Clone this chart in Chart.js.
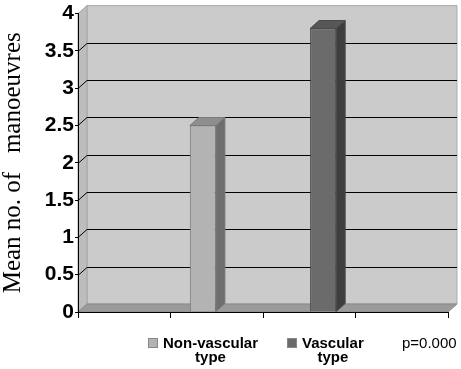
<!DOCTYPE html>
<html><head><meta charset="utf-8">
<script src="https://cdn.jsdelivr.net/npm/chart.js@4"></script>
<style>html,body{margin:0;padding:0;background:#fff;}</style>
</head><body>
<canvas id="c" width="461" height="369" style="display:block;width:461px;height:369px"></canvas>
<script>
// ---- data ----
const categories = ["", "", "", ""];
const nonVascular = [null, 2.5, null, null];
const vascular = [null, null, 3.8, null];
const seriesNames = ["Non-vascular type", "Vascular type"];
const yTicks = [0, 0.5, 1, 1.5, 2, 2.5, 3, 3.5, 4];
const yTickLabels = ["0", "0.5", "1", "1.5", "2", "2.5", "3", "3.5", "4"];
const yTitle = "Mean no. of   manoeuvres";
const note = "p=0.000";

// ---- styles ----
const DX = 9, DY = 8;
const faces = [
  {front:'#b3b3b3', side:'#6e6e6e', top:'#8e8e8e', edge:'#7a7a7a'},
  {front:'#6b6b6b', side:'#3e3e3e', top:'#575757', edge:'#4a4a4a'}
];

function poly(ctx, pts, fill, stroke) {
  ctx.beginPath();
  ctx.moveTo(pts[0][0], pts[0][1]);
  for (let i = 1; i < pts.length; i++) ctx.lineTo(pts[i][0], pts[i][1]);
  ctx.closePath();
  if (fill) { ctx.fillStyle = fill; ctx.fill(); }
  if (stroke) { ctx.strokeStyle = stroke; ctx.lineWidth = 1; ctx.stroke(); }
}

const threeD = {
  id: 'threeD',
  beforeDraw(chart) {
    const {ctx, chartArea: a, scales: {y}} = chart;
    ctx.save();
    ctx.fillStyle = '#fff';
    ctx.fillRect(0, 0, chart.width, chart.height);
    // back wall
    poly(ctx, [[a.left+DX, a.top-DY],[a.right+DX, a.top-DY],[a.right+DX, a.bottom-DY],[a.left+DX, a.bottom-DY]], '#cbcbcb', '#ababab');
    // side wall
    poly(ctx, [[a.left, a.bottom],[a.left, a.top],[a.left+DX, a.top-DY],[a.left+DX, a.bottom-DY]], '#bdbdbd', '#a5a5a5');
    // floor
    poly(ctx, [[a.left, a.bottom],[a.right, a.bottom],[a.right+DX, a.bottom-DY],[a.left+DX, a.bottom-DY]], '#9a9a9a', '#8a8a8a');
    // gridlines
    ctx.strokeStyle = '#000';
    ctx.lineWidth = 1;
    for (const v of yTicks) {
      if (v === yTicks[0] || v === yTicks[yTicks.length-1]) continue;
      const py = Math.round(y.getPixelForValue(v)) + 0.5;
      ctx.beginPath();
      ctx.moveTo(a.left, py);
      ctx.lineTo(a.left + DX, py - DY);
      ctx.lineTo(a.right + DX, py - DY);
      ctx.stroke();
    }
    ctx.restore();
  },
  afterDatasetsDraw(chart) {
    const ctx = chart.ctx;
    ctx.save();
    chart.data.datasets.forEach((ds, di) => {
      const meta = chart.getDatasetMeta(di);
      const f = faces[di];
      meta.data.forEach((el, i) => {
        if (ds.data[i] == null) return;
        const p = el.getProps(['x','y','base','width'], true);
        const l = p.x - p.width/2, r = p.x + p.width/2;
        poly(ctx, [[r, p.y],[r+DX, p.y-DY],[r+DX, p.base-DY],[r, p.base]], f.side, f.edge);
        poly(ctx, [[l, p.y],[l+DX, p.y-DY],[r+DX, p.y-DY],[r, p.y]], f.top, f.edge);
      });
    });
    ctx.restore();
  },
  afterDraw(chart) {
    const ctx = chart.ctx;
    ctx.save();
    ctx.fillStyle = '#000';
    ctx.textBaseline = 'alphabetic';
    const boxX = [148, 287];
    chart.data.datasets.forEach((ds, di) => {
      const f = faces[di];
      ctx.fillStyle = f.front;
      ctx.fillRect(boxX[di], 338, 10, 10);
      ctx.strokeStyle = '#888';
      ctx.lineWidth = 1;
      ctx.strokeRect(boxX[di]+0.5, 338.5, 9, 9);
      const words = ds.label.split(' ');
      ctx.font = 'bold 15px "Liberation Sans", Arial, sans-serif';
      ctx.fillStyle = '#000';
      ctx.textAlign = 'left';
      const tx = boxX[di] + 15;
      ctx.fillText(words[0], tx, 348);
      const w0 = ctx.measureText(words[0]).width;
      ctx.textAlign = 'center';
      ctx.fillText(words.slice(1).join(' '), tx + w0/2, 362);
    });
    ctx.font = '15px "Liberation Sans", Arial, sans-serif';
    ctx.textAlign = 'left';
    ctx.fillText(note, 402, 348);
    ctx.restore();
  }
};

new Chart(document.getElementById('c'), {
  type: 'bar',
  data: {
    labels: categories,
    datasets: [
      {label: seriesNames[0], data: nonVascular, backgroundColor: faces[0].front, borderColor: faces[0].edge, borderWidth: 1},
      {label: seriesNames[1], data: vascular, backgroundColor: faces[1].front, borderColor: faces[1].edge, borderWidth: 1}
    ]
  },
  options: {
    responsive: false,
    animation: false,
    events: [],
    datasets: {bar: {categoryPercentage: 0.6, barPercentage: 0.94}},
    layout: {padding: {top: 12, right: 13, left: 0, bottom: 0}},
    plugins: {legend: {display: false}, tooltip: {enabled: false}},
    scales: {
      x: {
        grid: {offset: true, drawOnChartArea: false, tickLength: 6, color: '#000'},
        border: {color: '#000'},
        ticks: {display: false},
        afterFit: s => { s.height = 57; }
      },
      y: {
        min: 0, max: 4,
        afterBuildTicks: s => { s.ticks = yTicks.map(v => ({value: v})); },
        ticks: {
          font: {family: 'Liberation Sans', size: 21, weight: 'bold'}, color: '#000', padding: 1,
          callback: (v, i) => yTickLabels[i]
        },
        grid: {drawOnChartArea: false, tickLength: 3, color: '#000'},
        border: {color: '#000'},
        title: {display: true, text: yTitle, color: '#000', font: {family: 'Liberation Serif', size: 25, lineHeight: 1.1}, padding: {top: 0, bottom: 0}},
        afterFit: s => { s.width = 78; }
      }
    }
  },
  plugins: [threeD]
});
</script>
</body></html>
